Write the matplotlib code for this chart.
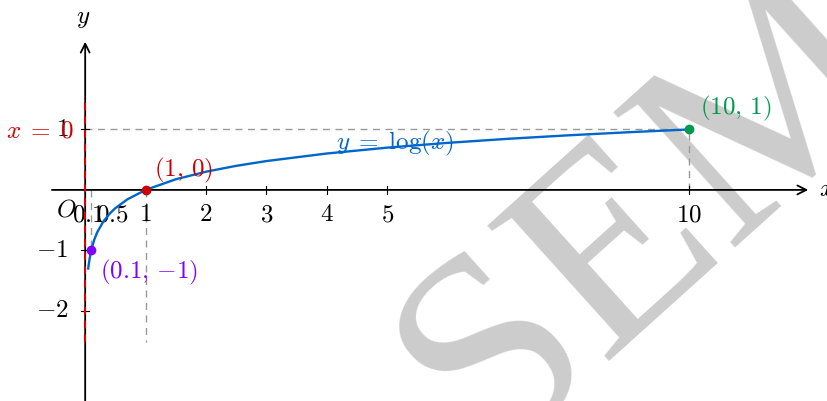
import matplotlib
matplotlib.use("Agg")
import matplotlib.pyplot as plt

plt.rcParams["mathtext.fontset"] = "cm"
plt.rcParams["font.family"] = "DejaVu Serif"

# curve samples of y = log(x)
curve_x = [0.05, 0.07, 0.1, 0.15, 0.2, 0.3, 0.4, 0.5, 0.7, 1.0, 1.5, 2.0, 2.5, 3.0, 4.0, 5.0, 6.0, 7.0, 8.0, 9.0, 10.0]
curve_y = [-1.30, -1.155, -1.0, -0.824, -0.699, -0.523, -0.398, -0.301, -0.155, 0.0, 0.176, 0.301,
           0.398, 0.477, 0.602, 0.699, 0.778, 0.845, 0.903, 0.954, 1.0]

x_ticks = [1, 2, 3, 4, 5, 10]
x_tick_labels = ["1", "2", "3", "4", "5", "10"]
x_small_ticks = [0.1, 0.5]
x_small_labels = ["0.1", "0.5"]
y_ticks = [1, -1, -2]
y_tick_labels = ["1", "-1", "-2"]

points_x = [1, 0.1, 10]
points_y = [0, -1, 1]
point_labels = [r"(1,\,0)", r"(0.1,\,{-1})", r"(10,\,1)"]
point_colors = ["#cc0000", "#8000ff", "#009a4d"]
label_pos = [(1.14, 0.33), (0.24, -1.36), (10.17, 1.34)]

BLUE = "#0066cc"
GRAY = "#999999"
FS = 18

fig = plt.figure(figsize=(8.27, 4.01), dpi=100)
ax = fig.add_axes([0, 0, 1, 1])
ax.set_xlim(-1.41, 12.28)
ax.set_ylim(-3.49, 3.14)
ax.set_axis_off()

# watermark
ax.text(6.61, -4.41, "SEM", fontsize=200, family="Liberation Serif", color="#cccccc",
        rotation=42, rotation_mode="anchor", ha="left", va="baseline", zorder=0)

# axes with arrows
ax.annotate("", xy=(11.97, 0), xytext=(-0.55, 0),
            arrowprops=dict(arrowstyle="->", lw=1.3, color="black", mutation_scale=16,
                            shrinkA=0, shrinkB=0), zorder=3)
ax.annotate("", xy=(0, 2.45), xytext=(0, -3.6),
            arrowprops=dict(arrowstyle="->", lw=1.3, color="black", mutation_scale=16,
                            shrinkA=0, shrinkB=0), zorder=3)
ax.text(12.14, 0, r"$x$", fontsize=FS, ha="left", va="center")
ax.text(-0.03, 2.84, r"$y$", fontsize=FS, ha="center", va="center")
ax.text(-0.31, -0.33, r"$O$", fontsize=FS, ha="center", va="center")

# ticks
for t, lab in zip(x_ticks, x_tick_labels):
    ax.plot([t, t], [-0.07, 0.07], color="black", lw=0.8, zorder=3)
    ax.text(t, -0.41, "$" + lab + "$", fontsize=FS, ha="center", va="center", zorder=4)
for t, lab in zip(x_small_ticks, x_small_labels):
    ax.text(t - 0.05, -0.41, "$" + lab + "$", fontsize=FS, ha="center", va="center", zorder=4)
for t, lab in zip(y_ticks, y_tick_labels):
    ax.plot([-0.07, 0.07], [t, t], color="black", lw=0.8, zorder=3)
    ax.text(-0.28, t, "$" + lab + "$", fontsize=FS, ha="right", va="center", zorder=4)

# asymptote x = 0
ax.plot([0, 0], [-2.51, 1.49], color="#e00000", lw=1.4, dashes=(4, 3), zorder=4)
ax.text(-0.18, 0.97, r"$x\;=\;0$", fontsize=FS, color="#cc0000", ha="right", va="center", zorder=5)

# guide lines
ax.plot([0, 10], [1, 1], color=GRAY, lw=1.0, dashes=(5, 4), zorder=2)
ax.plot([10, 10], [0, 1], color=GRAY, lw=1.0, dashes=(5, 4), zorder=2)
ax.plot([1, 1], [0, -2.51], color=GRAY, lw=1.0, dashes=(5, 4), zorder=2)
ax.plot([0.1, 0.1], [0, -1], color=GRAY, lw=1.0, dashes=(5, 4), zorder=2)

# curve
ax.plot(curve_x, curve_y, color=BLUE, lw=1.7, zorder=5)
ax.text(5.12, 0.76, r"$y\;=\;\log(x)$", fontsize=FS, color=BLUE, ha="center", va="center", zorder=6)

# points
for px, py, lab, c, (lx, ly) in zip(points_x, points_y, point_labels, point_colors, label_pos):
    ax.plot(px, py, "o", color=c, ms=6, zorder=7)
    ax.text(lx, ly, "$" + lab + "$", fontsize=FS, color=c, ha="left", va="center", zorder=7)

fig.savefig("out.png", dpi=100)
